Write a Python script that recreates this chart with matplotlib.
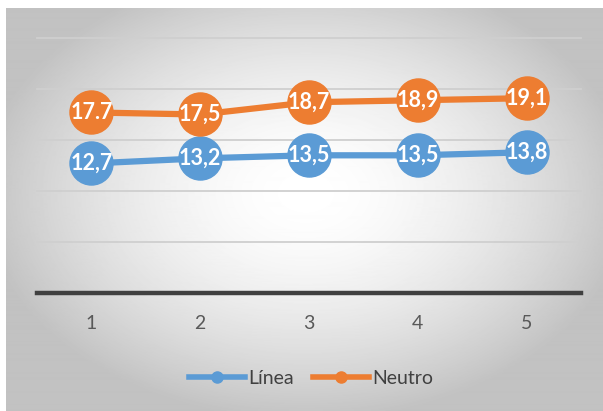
import matplotlib.pyplot as plt
import numpy as np
from matplotlib.lines import Line2D

plt.rcParams['font.family'] = ['Lato', 'DejaVu Sans']

# categories and series
categorias = [1, 2, 3, 4, 5]
linea = [12.7, 13.2, 13.5, 13.5, 13.8]
neutro = [17.7, 17.5, 18.7, 18.9, 19.1]
etiquetas_linea = ["12,7", "13,2", "13,5", "13,5", "13,8"]
etiquetas_neutro = ["17.7", "17,5", "18,7", "18,9", "19,1"]

AZUL = '#5B9BD5'
NARANJA = '#ED7D31'

W, H = 603, 411
fig = plt.figure(figsize=(W / 100, H / 100), dpi=100)
fig.patch.set_facecolor('white')

# radial grey-to-white background of the chart area
bg = fig.add_axes([6 / W, 0, (W - 6) / W, (H - 8) / H])
yy, xx = np.mgrid[0:403, 0:597]
d = np.sqrt(((xx - 300) / 300.0) ** 2 + ((yy - 185) / 210.0) ** 2)
val = np.clip(1.0 - 0.21 * d ** 1.7, 0.76, 1.0)
bg.imshow(val, cmap='gray', vmin=0, vmax=1, aspect='auto', interpolation='bilinear')
bg.set_axis_off()

ax = fig.add_axes([37 / W, 1 - 293 / H, 544 / W, 255 / H])
ax.patch.set_alpha(0)
ax.set_xlim(0.5, 5.5)
ax.set_ylim(0, 25)

for v in [5, 10, 15, 20, 25]:
    ax.axhline(v, color='#cfcfcf', lw=1.3, zorder=1, clip_on=False)

for s in ['top', 'right', 'left']:
    ax.spines[s].set_visible(False)
ax.spines['bottom'].set_color('#404040')
ax.spines['bottom'].set_linewidth(3.2)
ax.spines['bottom'].set_zorder(2)

ax.set_yticks([])
ax.set_xticks(categorias)
ax.tick_params(axis='x', length=0, pad=16, labelsize=14, labelcolor='#595959')

for serie, etiquetas, color in [(linea, etiquetas_linea, AZUL), (neutro, etiquetas_neutro, NARANJA)]:
    ax.plot(categorias, serie, color=color, lw=4.5, marker='o', ms=31,
            markeredgecolor=color, zorder=3, clip_on=False)
    for x, y, t in zip(categorias, serie, etiquetas):
        ax.text(x, y, t, color='white', fontsize=15.5, fontweight='bold',
                ha='center', va='center', zorder=4)

handles = [Line2D([], [], color=AZUL, lw=4, marker='o', ms=8),
           Line2D([], [], color=NARANJA, lw=4, marker='o', ms=8)]
fig.legend(handles, ['Línea', 'Neutro'], loc='center', bbox_to_anchor=(311 / W, 1 - 378 / H),
           ncol=2, frameon=False, fontsize=14, labelcolor='#404040',
           handlelength=2.9, handletextpad=0.15, columnspacing=1.0)

fig.savefig('out.png', dpi=100)
